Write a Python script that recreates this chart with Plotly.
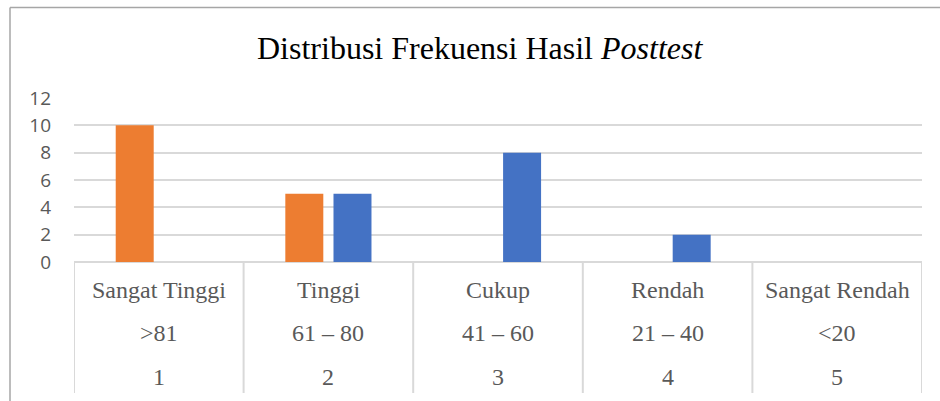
import plotly.graph_objects as go

# ---- data ----
kategori = ["Sangat Tinggi", "Tinggi", "Cukup", "Rendah", "Sangat Rendah"]
rentang = [">81", "61 – 80", "41 – 60", "21 – 40", "<20"]
nomor = ["1", "2", "3", "4", "5"]
seri_oranye = [10, 5, 0, 0, 0]
seri_biru = [0, 5, 8, 2, 0]
y_ticks = [0, 2, 4, 6, 8, 10, 12]
judul = "Distribusi Frekuensi Hasil <i>Posttest</i>"

W, H = 940, 401
ML, MR, MT, MB = 74, 18, 98, 139
pw, ph = W - ML - MR, H - MT - MB

def px_x(px):
    return (px - ML) / pw

def px_y(py):
    return (H - MB - py) / ph

xs = list(range(len(kategori)))

fig = go.Figure()
fig.add_trace(go.Bar(x=xs, y=seri_oranye, name="Seri 1", marker_color="#ED7D31",
                     marker_line_width=0, width=0.224, offset=-0.254))
fig.add_trace(go.Bar(x=xs, y=seri_biru, name="Seri 2", marker_color="#4472C4",
                     marker_line_width=0, width=0.224, offset=0.030))

grey = "#d9d9d9"
shapes = []
# vertical separators for category table
for i in range(len(kategori) + 1):
    shapes.append(dict(type="line", xref="x", yref="paper", x0=i - 0.5, x1=i - 0.5,
                       y0=0, y1=px_y(393), line=dict(color=grey, width=2), layer="below"))
# outer chart border (left and top)
shapes.append(dict(type="line", xref="paper", yref="paper", x0=px_x(10), x1=px_x(10),
                   y0=px_y(401), y1=px_y(7.5), line=dict(color="#a6a6a6", width=1.5)))
shapes.append(dict(type="line", xref="paper", yref="paper", x0=px_x(10), x1=px_x(940),
                   y0=px_y(7.5), y1=px_y(7.5), line=dict(color="#a6a6a6", width=1.5)))

annotations = []
label_font = dict(family="Liberation Serif", size=24, color="#595959")
for i in xs:
    for txt, py in ((kategori[i], 290), (rentang[i], 333), (nomor[i], 377)):
        annotations.append(dict(x=i, y=px_y(py), xref="x", yref="paper", text=txt,
                                showarrow=False, xanchor="center", yanchor="middle",
                                font=label_font))
annotations.append(dict(x=px_x(480), y=px_y(48), xref="paper", yref="paper", text=judul,
                        showarrow=False, xanchor="center", yanchor="middle",
                        font=dict(family="Liberation Serif", size=32, color="#000000")))

fig.update_layout(
    width=W, height=H,
    margin=dict(l=ML, r=MR, t=MT, b=MB, pad=0),
    paper_bgcolor="white", plot_bgcolor="white",
    showlegend=False,
    barmode="overlay",
    xaxis=dict(range=[-0.5, len(kategori) - 0.5], showticklabels=False, showgrid=False,
               zeroline=False, showline=False, fixedrange=True),
    yaxis=dict(range=[0, 12], tickvals=y_ticks, showgrid=True, gridcolor=grey, gridwidth=2,
               zeroline=True, zerolinecolor=grey, zerolinewidth=2, showline=False,
               ticks="", ticklabelstandoff=22,
               tickfont=dict(family="Open Sans", size=19, color="#595959")),
    shapes=shapes,
    annotations=annotations,
)

fig.write_html("out.html", config={"displayModeBar": False},
               post_script="document.body.style.margin='0';document.body.style.overflow='hidden';")
